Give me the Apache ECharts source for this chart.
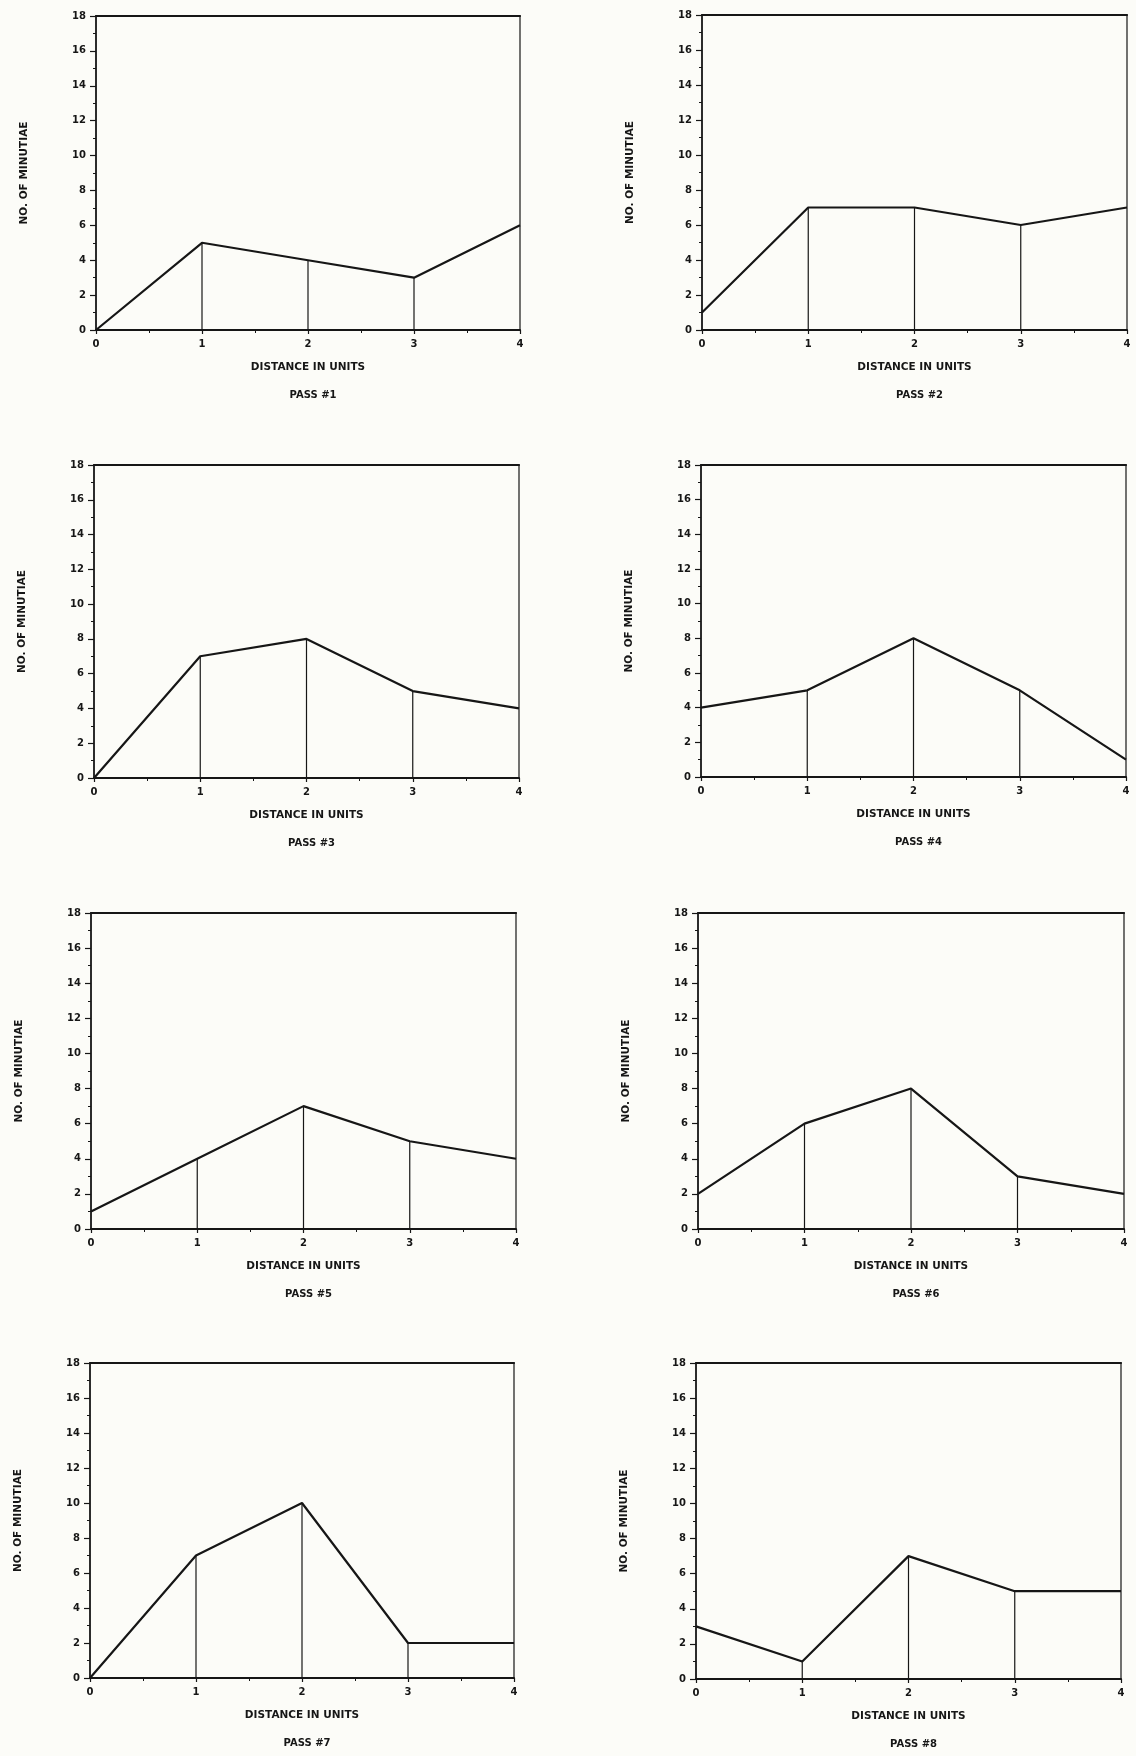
<!DOCTYPE html>
<html>
<head>
<meta charset="utf-8">
<script src="https://cdn.jsdelivr.net/npm/echarts@6/dist/echarts.min.js"></script>
<style>
  html, body { margin: 0; padding: 0; background: #fcfcf8; }
  #chart { width: 1136px; height: 1756px; }
</style>
</head>
<body>
<div id="chart"></div>
<script>
// distance steps on the x axis
const distances = [0, 1, 2, 3, 4];

// number of minutiae per pass
const pass1 = [0, 5, 4, 3, 6];
const pass2 = [1, 7, 7, 6, 7];
const pass3 = [0, 7, 8, 5, 4];
const pass4 = [4, 5, 8, 5, 1];
const pass5 = [1, 4, 7, 5, 4];
const pass6 = [2, 6, 8, 3, 2];
const pass7 = [0, 7, 10, 2, 2];
const pass8 = [3, 1, 7, 5, 5];

const passes = [pass1, pass2, pass3, pass4, pass5, pass6, pass7, pass8];
const passNames = ['PASS #1', 'PASS #2', 'PASS #3', 'PASS #4', 'PASS #5', 'PASS #6', 'PASS #7', 'PASS #8'];

const xTitle = 'DISTANCE IN UNITS';
const yTitle = 'NO. OF MINUTIAE';

// plot boxes (left, top, width, height)
const boxes = [
  [96, 16, 424, 314], [702, 15, 425, 315],
  [94, 465, 425, 313], [701, 465, 425, 312],
  [91, 913, 425, 316], [698, 913, 426, 316],
  [90, 1363, 424, 315], [696, 1363, 425, 316]
];

const ink = '#161616';
const font = 'DejaVu Sans';

const grid = [], xAxis = [], yAxis = [], series = [], title = [];

boxes.forEach((b, i) => {
  grid.push({
    left: b[0], top: b[1], width: b[2], height: b[3],
    show: true, borderColor: ink, borderWidth: 1.2, backgroundColor: 'transparent'
  });
  xAxis.push({
    type: 'value', gridIndex: i, min: 0, max: 4, interval: 1,
    name: xTitle, nameLocation: 'middle', nameGap: 32,
    nameTextStyle: { color: ink, fontFamily: font, fontWeight: 'bold', fontSize: 10.5 },
    axisLine: { show: true, lineStyle: { color: ink, width: 2 } },
    axisTick: { show: true, inside: false, length: 4, lineStyle: { color: ink, width: 1.2 } },
    minorTick: { show: true, splitNumber: 2, length: 3, lineStyle: { color: ink, width: 1 } },
    axisLabel: { color: ink, fontFamily: font, fontWeight: 'bold', fontSize: 10, margin: 9 },
    splitLine: { show: false }
  });
  yAxis.push({
    type: 'value', gridIndex: i, min: 0, max: 18, interval: 2,
    name: yTitle, nameLocation: 'middle', nameGap: 66, nameRotate: 90,
    nameTextStyle: { color: ink, fontFamily: font, fontWeight: 'bold', fontSize: 10.5 },
    axisLine: { show: true, lineStyle: { color: ink, width: 1.5 } },
    axisTick: { show: true, inside: false, length: 6, lineStyle: { color: ink, width: 1.2 } },
    minorTick: { show: true, splitNumber: 2, length: 3, lineStyle: { color: ink, width: 1 } },
    axisLabel: { color: ink, fontFamily: font, fontWeight: 'bold', fontSize: 10, margin: 10 },
    splitLine: { show: false }
  });
  const vals = passes[i];
  series.push({
    type: 'line', xAxisIndex: i, yAxisIndex: i,
    data: distances.map((d, k) => [d, vals[k]]),
    symbol: 'none', lineStyle: { color: ink, width: 2.2 }, silent: true
  });
  // vertical drop lines at the interior distances
  series.push({
    type: 'bar', xAxisIndex: i, yAxisIndex: i, barWidth: 1.2,
    data: distances.slice(1, 4).map(d => [d, vals[d]]),
    itemStyle: { color: ink }, silent: true
  });
  title.push({
    text: passNames[i],
    left: b[0] + b[2] / 2, top: b[1] + b[3] + 55, textAlign: 'center',
    textStyle: { color: ink, fontFamily: font, fontWeight: 'bold', fontSize: 10 }
  });
});

// heavy top frame line on every panel
boxes.forEach((b, i) => {
  xAxis.push({
    type: 'value', gridIndex: i, position: 'top', min: 0, max: 4,
    axisLine: { show: true, lineStyle: { color: ink, width: 2.2 } },
    axisTick: { show: false }, axisLabel: { show: false }, splitLine: { show: false }
  });
});

const chart = echarts.init(document.getElementById('chart'));
chart.setOption({
  backgroundColor: '#fcfcf8',
  animation: false,
  title, grid, xAxis, yAxis, series
});
</script>
</body>
</html>
